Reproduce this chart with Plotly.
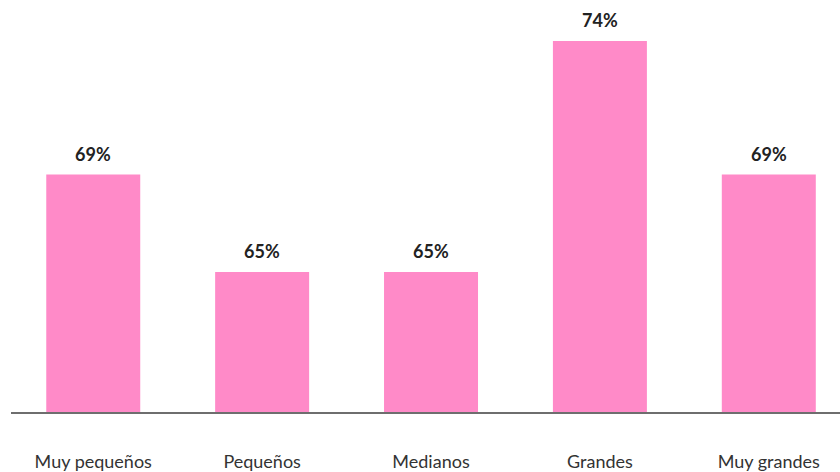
import plotly.graph_objects as go

categories = ["Muy pequeños", "Pequeños", "Medianos", "Grandes", "Muy grandes"]
values = [68.8, 65.0, 65.0, 74.0, 68.8]
labels = [f"{round(v)}%" for v in values]

bar_color = "#FF8AC8"

fig = go.Figure(
    go.Bar(
        x=categories,
        y=values,
        marker=dict(color=bar_color, line=dict(width=0)),
        width=0.5565,
        hoverinfo="skip",
    )
)

annotations = [
    dict(
        x=c, y=v, text=f"<b>{t}</b>", showarrow=False,
        yanchor="middle", yshift=21,
        font=dict(family="Lato", size=18, color="#222222"),
    )
    for c, v, t in zip(categories, values, labels)
]

fig.update_layout(
    width=840,
    height=472,
    margin=dict(l=11, r=0, t=0, b=60, autoexpand=False),
    paper_bgcolor="white",
    plot_bgcolor="white",
    showlegend=False,
    annotations=annotations,
    xaxis=dict(
        type="category",
        range=[-0.487, 4.4216],
        automargin=False,
        showline=True,
        linecolor="#6e6e6e",
        linewidth=1.5,
        showgrid=False,
        ticks="",
        ticklabelstandoff=33,
        tickfont=dict(family="Lato", size=18, color="#333333"),
    ),
    yaxis=dict(
        range=[59.55, 59.55 + 412 / 25.67],
        visible=False,
        showgrid=False,
        zeroline=False,
        automargin=False,
    ),
)

fig.write_html(
    "out.html",
    config={"displayModeBar": False, "staticPlot": True},
    post_script="document.body.style.margin='0';document.body.style.overflow='hidden';",
)
